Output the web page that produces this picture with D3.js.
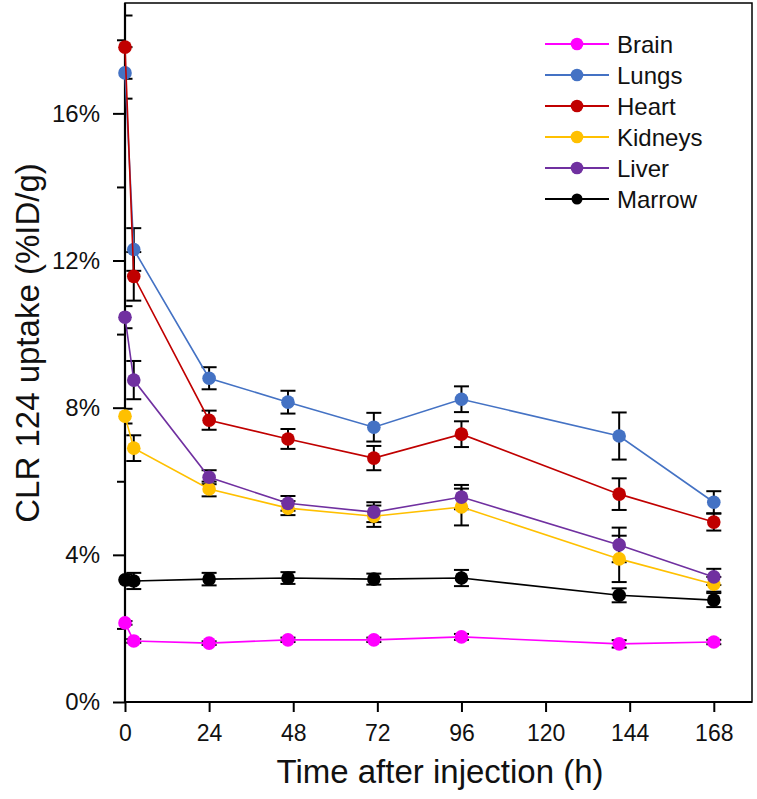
<!DOCTYPE html>
<html>
<head>
<meta charset="utf-8">
<script src="https://cdnjs.cloudflare.com/ajax/libs/d3/7.8.5/d3.min.js"></script>
<style>
  html, body { margin: 0; padding: 0; background: #fff; }
  svg { display: block; font-family: "Liberation Sans", Arial, sans-serif; }
</style>
</head>
<body>
<svg id="chart" width="757" height="799"></svg>
<script>
// sampling times (h)
const times = [0, 2.5, 24, 46.5, 71, 96, 141, 168];
const organs = ['Brain', 'Lungs', 'Heart', 'Kidneys', 'Liver', 'Marrow'];
const colors = ['#ff00ff', '#4472c4', '#c00000', '#ffc000', '#7030a0', '#000000'];

// uptake in %ID/g, mean and error
const brain = [2.15, 1.66, 1.60, 1.69, 1.69, 1.77, 1.58, 1.63];
const brainErr = [0.05, 0.05, 0.05, 0.06, 0.06, 0.08, 0.10, 0.06];
const lungs = [17.1, 12.3, 8.8, 8.15, 7.47, 8.23, 7.23, 5.43];
const lungsErr = [0.7, 0.58, 0.3, 0.31, 0.39, 0.35, 0.64, 0.3];
const heart = [17.8, 11.57, 7.66, 7.15, 6.63, 7.28, 5.65, 4.89];
const heartErr = [0.86, 0.66, 0.26, 0.27, 0.33, 0.35, 0.43, 0.23];
const kidneys = [7.77, 6.9, 5.79, 5.27, 5.05, 5.3, 3.89, 3.2];
const kidneysErr = [0.2, 0.35, 0.2, 0.19, 0.29, 0.5, 0.63, 0.2];
const liver = [10.46, 8.75, 6.11, 5.4, 5.16, 5.57, 4.27, 3.4];
const liverErr = [0.3, 0.52, 0.19, 0.2, 0.27, 0.33, 0.47, 0.22];
const marrow = [3.32, 3.29, 3.34, 3.37, 3.34, 3.37, 2.9, 2.77];
const marrowErr = [0.15, 0.22, 0.17, 0.16, 0.15, 0.22, 0.19, 0.19];

const xTicks = [0, 24, 48, 72, 96, 120, 144, 168];
const yTicks = [0, 2, 4, 6, 8, 10, 12, 14, 16, 18];

const means = [brain, lungs, heart, kidneys, liver, marrow];
const errs = [brainErr, lungsErr, heartErr, kidneysErr, liverErr, marrowErr];

const series = organs.map((name, i) => ({
  name: name,
  color: colors[i],
  values: times.map((t, j) => ({ t: t, v: means[i][j], e: errs[i][j] }))
}));

const svg = d3.select('#chart'),
  margin = { top: 3, right: 5, bottom: 97, left: 125 },
  width = +svg.attr('width') - margin.left - margin.right,
  height = +svg.attr('height') - margin.top - margin.bottom;

const g = svg.append('g').attr('transform', `translate(${margin.left}, ${margin.top})`);

const x = d3.scaleLinear().domain([0, 178.9]).range([0, width]);
const y = d3.scaleLinear().domain([0, 19]).range([height, 0]);

svg.append('defs').append('clipPath').attr('id', 'plotclip')
  .append('rect').attr('width', width).attr('height', height);

// y axis: long ticks with labels every 4%, short ticks between
const yAxis = g.append('g')
  .call(d3.axisLeft(y).tickValues(yTicks).tickSize(12).tickPadding(13)
    .tickFormat((d) => (d % 4 === 0 ? d + '%' : '')));
yAxis.select('.domain').remove();
yAxis.selectAll('.tick line')
  .attr('stroke-width', 2)
  .attr('x2', (d) => (d % 4 === 0 ? -12 : -8));
yAxis.selectAll('.tick text').style('font-size', '24px').attr('fill', '#111');

const xAxis = g.append('g')
  .attr('transform', `translate(0, ${height})`)
  .call(d3.axisBottom(x).tickValues(xTicks).tickSize(10).tickPadding(13));
xAxis.select('.domain').remove();
xAxis.selectAll('.tick line').attr('stroke-width', 2);
xAxis.selectAll('.tick text').style('font-size', '23px').attr('fill', '#111');

// frame
g.append('rect')
  .attr('width', width).attr('height', height)
  .attr('fill', 'none').attr('stroke', '#000').attr('stroke-width', 1.5);
g.append('line').attr('x1', 0).attr('x2', 0).attr('y1', 0).attr('y2', height)
  .attr('stroke', '#000').attr('stroke-width', 2.2);
g.append('line').attr('x1', 0).attr('x2', width).attr('y1', height).attr('y2', height)
  .attr('stroke', '#000').attr('stroke-width', 2.2);

// error bars
const capW = 7.5;
const bars = g.append('g').attr('clip-path', 'url(#plotclip)');
series.forEach((s) => {
  const eb = bars.selectAll(null).data(s.values).enter().append('g')
    .attr('stroke', '#000').attr('stroke-width', 2).attr('fill', 'none');
  eb.append('line')
    .attr('x1', (d) => x(d.t)).attr('x2', (d) => x(d.t))
    .attr('y1', (d) => y(d.v + d.e)).attr('y2', (d) => y(d.v - d.e));
  eb.append('line')
    .attr('x1', (d) => x(d.t) - capW).attr('x2', (d) => x(d.t) + capW)
    .attr('y1', (d) => y(d.v + d.e)).attr('y2', (d) => y(d.v + d.e));
  eb.append('line')
    .attr('x1', (d) => x(d.t) - capW).attr('x2', (d) => x(d.t) + capW)
    .attr('y1', (d) => y(d.v - d.e)).attr('y2', (d) => y(d.v - d.e));
});

const line = d3.line().x((d) => x(d.t)).y((d) => y(d.v));

const sensor = g.selectAll('.organ').data(series).enter().append('g').attr('class', 'organ');
sensor.append('path')
  .attr('d', (d) => line(d.values))
  .attr('fill', 'none')
  .attr('stroke', (d) => d.color)
  .attr('stroke-width', 1.6);
sensor.each(function (s) {
  d3.select(this).selectAll('circle').data(s.values).enter().append('circle')
    .attr('cx', (d) => x(d.t)).attr('cy', (d) => y(d.v))
    .attr('r', 6.8)
    .attr('fill', s.color);
});

// legend
const legend = svg.append('g').attr('transform', 'translate(545, 44)');
const row = legend.selectAll('.row').data(series).enter().append('g')
  .attr('transform', (d, i) => `translate(0, ${i * 31})`);
row.append('line').attr('x1', 0).attr('x2', 64)
  .attr('stroke', (d) => d.color).attr('stroke-width', 2);
row.append('circle').attr('cx', 32).attr('r', (d, i) => (i === 5 ? 5.5 : 6.3))
  .attr('fill', (d) => d.color);
row.append('text').attr('x', 72).attr('dy', '0.36em')
  .style('font-size', '24px').attr('fill', '#111')
  .text((d) => d.name);

// axis titles
svg.append('text')
  .attr('x', 440).attr('y', 783)
  .attr('text-anchor', 'middle')
  .style('font-size', '33px').attr('fill', '#111')
  .text('Time after injection (h)');
svg.append('text')
  .attr('transform', 'translate(39, 343) rotate(-90)')
  .attr('text-anchor', 'middle')
  .style('font-size', '33px').attr('fill', '#111')
  .text('CLR 124 uptake (%ID/g)');
</script>
</body>
</html>
